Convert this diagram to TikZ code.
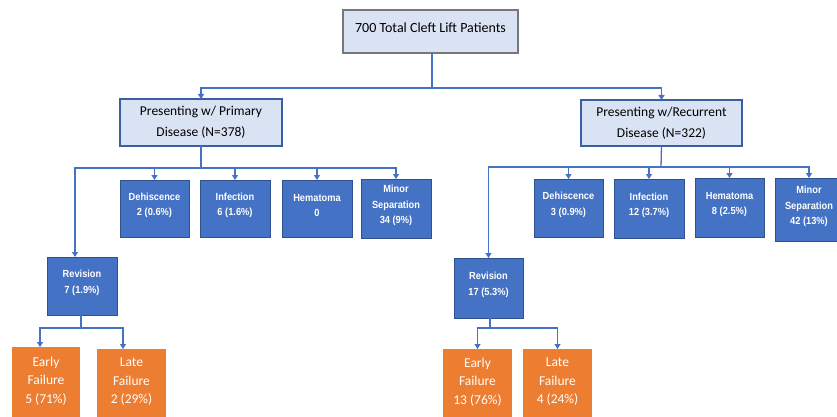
\documentclass[tikz,border=0pt]{standalone}
\usepackage{fontspec}
\setmainfont{Carlito}
\newfontfamily\bxfont[FakeStretch=0.9]{Liberation Sans}
\usetikzlibrary{arrows.meta,calc}
\definecolor{lav}{HTML}{DAE3F3}
\definecolor{bfill}{HTML}{4472C4}
\definecolor{bedge}{HTML}{2F528F}
\definecolor{pedge}{HTML}{3B5FA3}
\definecolor{ofill}{HTML}{ED7D31}
\definecolor{conn}{HTML}{4472C4}
\definecolor{gedge}{HTML}{777777}
\begin{document}
\begin{tikzpicture}[x=1pt,y=-1pt,
  topbox/.style={draw=gedge, line width=1.2pt, fill=lav, rectangle, inner sep=0pt, outer sep=0pt,
    font=\fontsize{14}{17}\selectfont, align=center},
  presbox/.style={draw=pedge, line width=1.2pt, fill=lav, rectangle, inner sep=0pt, outer sep=0pt,
    font=\fontsize{13.5}{21}\selectfont, align=center},
  bluebox/.style={draw=bedge, line width=0.8pt, fill=bfill, rectangle, inner sep=0pt, outer sep=0pt},
  orbox/.style={fill=ofill, rectangle, inner sep=0pt, outer sep=0pt},
  blab/.style={anchor=center, yshift=3pt, inner sep=0pt, align=center, text=white,
    font=\bxfont\bfseries\fontsize{10.3}{15.5}\selectfont},
  olab/.style={anchor=center, yshift=3pt, inner sep=0pt, align=center, text=white,
    font=\fontsize{13.5}{18.5}\selectfont},
  conn/.style={draw=conn, line width=1.3pt, -{Triangle[width=6pt,length=5pt]}},
  plain/.style={draw=conn, line width=1.3pt}
]
\useasboundingbox (0,0) rectangle (837,417);
\clip (0,0) rectangle (837,417);
\fill[white] (0,0) rectangle (837,417);

% top level
\node[topbox, minimum width=175pt, minimum height=43pt] (top) at (430.5,31.5) {};
\node[inner sep=0pt, font=\fontsize{14}{17}\selectfont] (toptext) at (430.5,27.5) {700 Total Cleft Lift Patients};
\node[presbox, minimum width=162pt, minimum height=47pt] (prim) at (201,122.5) {Presenting w/ Primary\\Disease (N=378)};
\node[presbox, minimum width=161pt, minimum height=46pt] (rec) at (661.5,123) {Presenting w/Recurrent\\Disease (N=322)};

% left children
\node[bluebox, minimum width=69pt, minimum height=57pt, label={[blab]center:{Dehiscence\\2 (0.6\%)}}] (d1) at (154.5,208.5) {};
\node[bluebox, minimum width=70pt, minimum height=57pt, label={[blab]center:{Infection\\6 (1.6\%)}}] (i1) at (235,208.5) {};
\node[bluebox, minimum width=70pt, minimum height=57pt, label={[blab]center:{Hematoma\\0}}] (h1) at (317,208.5) {};
\node[bluebox, minimum width=70pt, minimum height=59pt, label={[blab]center:{Minor\\Separation\\34 (9\%)}}] (m1) at (396,208.5) {};

% right children
\node[bluebox, minimum width=69pt, minimum height=58pt, label={[blab]center:{Dehiscence\\3 (0.9\%)}}] (d2) at (568.5,208) {};
\node[bluebox, minimum width=70pt, minimum height=59pt, label={[blab]center:{Infection\\12 (3.7\%)}}] (i2) at (649,208.5) {};
\node[bluebox, minimum width=69pt, minimum height=59pt, label={[blab]center:{Hematoma\\8 (2.5\%)}}] (h2) at (729.5,207.5) {};
\node[bluebox, minimum width=68pt, minimum height=63pt, label={[blab]center:{Minor\\Separation\\42 (13\%)}}] (m2) at (809,209.5) {};

% revisions
\node[bluebox, minimum width=70pt, minimum height=58pt, label={[blab]center:{Revision\\7 (1.9\%)}}] (rev1) at (82,286) {};
\node[bluebox, minimum width=69pt, minimum height=60pt, label={[blab]center:{Revision\\17 (5.3\%)}}] (rev2) at (488.5,288) {};

% failures
\node[orbox, minimum width=68pt, minimum height=74pt, label={[olab]center:{Early\\Failure\\5 (71\%)}}] (e1) at (46,384) {};
\node[orbox, minimum width=69pt, minimum height=72pt, label={[olab]center:{Late\\Failure\\2 (29\%)}}] (l1) at (131.5,385) {};
\node[orbox, minimum width=69pt, minimum height=72pt, label={[olab]center:{Early\\Failure\\13 (76\%)}}] (e2) at (477.5,385) {};
\node[orbox, minimum width=69pt, minimum height=72pt, label={[olab]center:{Late\\Failure\\4 (24\%)}}] (l2) at (557.5,385) {};

% junctions
\coordinate (tj) at (432,88);
\coordinate (pj1) at (201,168);
\coordinate (pj2) at (661,167);
\coordinate (rj1) at (81,328);
\coordinate (rj2) at (490,328);

% connectors
\draw[plain] (top.south -| tj) -- (tj);
\draw[conn] (tj) -| (prim.north);
\draw[conn] (tj) -| (rec.north);

\draw[plain] (prim.south) -- (pj1);
\draw[conn] (pj1) -| (d1.north);
\draw[conn] (pj1) -| (i1.north);
\draw[conn] (pj1) -| (h1.north);
\draw[conn] (pj1) -| (m1.north);
\draw[conn] (pj1) -| ([xshift=-7pt]rev1.north);

\draw[plain] (rec.south) -- (pj2);
\draw[conn] (pj2) -| (d2.north);
\draw[conn] (pj2) -| (i2.north);
\draw[conn] (pj2) -| (h2.north);
\draw[conn] (pj2) -| (m2.north);
\draw[conn] (pj2) -| (rev2.north);

\draw[plain] (rev1.south -| rj1) -- (rj1);
\draw[conn] (rj1) -| ([xshift=-6pt]e1.north);
\draw[conn] (rj1) -| ([xshift=-8.5pt]l1.north);

\draw[plain] (rev2.south -| rj2) -- (rj2);
\draw[conn] (rj2) -| (e2.north);
\draw[conn] (rj2) -| (l2.north);
\end{tikzpicture}
\end{document}
